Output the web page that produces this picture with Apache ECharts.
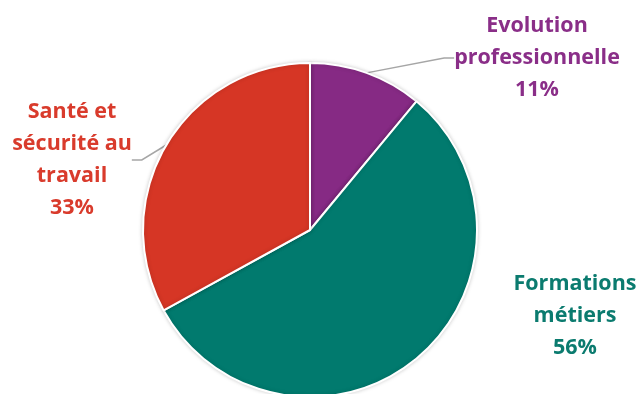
<!DOCTYPE html>
<html>
<head>
<meta charset="utf-8">
<script src="https://cdn.jsdelivr.net/npm/echarts@6/dist/echarts.min.js"></script>
<style>html,body{margin:0;padding:0;background:#fff}#c{width:640px;height:394px}</style>
</head>
<body>
<div id="c"></div>
<script>
const categories = ['Evolution\nprofessionnelle', 'Formations\nmétiers', 'Santé et\nsécurité au\ntravail'];
const values = [11, 56, 33];
const colors = ['#862a84', '#017a6e', '#d63625'];
const textColors = ['#8a2e88', '#0b7b6f', '#d93b2c'];
const labelPos = [[537, 58], [575, 316], [72, 160]];

const chart = echarts.init(document.getElementById('c'), null, {renderer: 'canvas'});
chart.setOption({
  animation: false,
  series: [{
    type: 'pie',
    center: [310, 230],
    radius: 167,
    startAngle: 90,
    clockwise: true,
    itemStyle: {borderColor: '#fff', borderWidth: 2, shadowColor: 'rgba(0,0,0,0.18)', shadowBlur: 4},
    label: {
      show: true,
      formatter: p => p.name + '\n' + p.value + '%',
      fontFamily: '"Open Sans", sans-serif',
      fontWeight: 'bold',
      fontSize: 21.5,
      lineHeight: 32,
      align: 'center'
    },
    labelLine: {show: true, lineStyle: {color: '#a6a6a6', width: 1.5}, length: 10, length2: 10},
    labelLayout: function (params) {
      const p = labelPos[params.dataIndex];
      return {x: p[0], y: p[1], align: 'center', verticalAlign: 'middle'};
    },
    data: categories.map((c, i) => ({
      name: c,
      value: values[i],
      itemStyle: {color: colors[i]},
      label: {color: textColors[i]},
      labelLine: {show: i !== 1}
    }))
  }]
});
</script>
</body>
</html>
